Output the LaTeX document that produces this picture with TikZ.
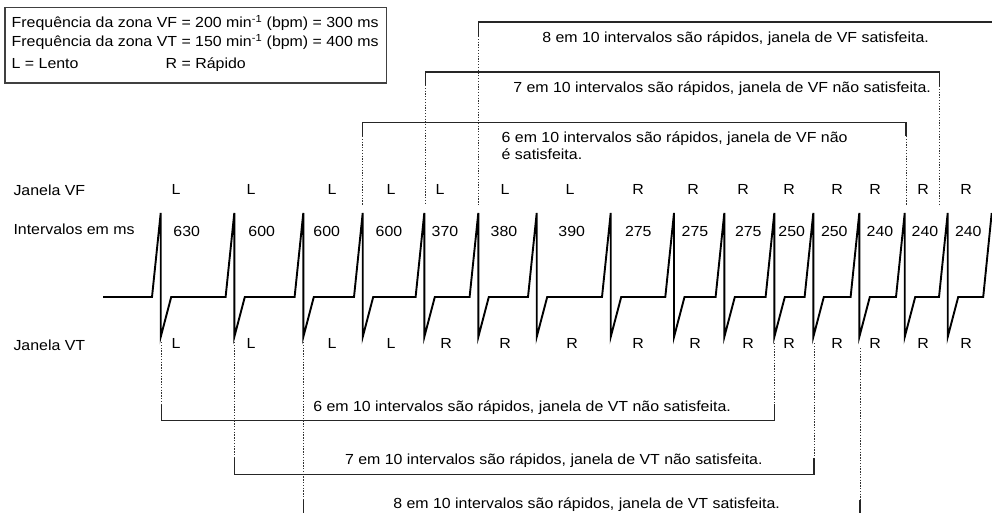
\documentclass[tikz,border=0pt]{standalone}
\usepackage{fontspec}
\setmainfont{Liberation Sans}[FakeStretch=1.09]
\begin{document}
\begin{tikzpicture}[x=1pt,y=-1pt,
  txt/.style={inner sep=0pt,outer sep=0pt,font=\fontsize{14.6}{17}\selectfont},
  lb/.style={txt,anchor=base},
  lbw/.style={txt,anchor=base west},
  wave/.style={line width=1.9pt,black},
  brk/.style={line width=1.2pt,draw=black!85},
  dotl/.style={line width=1pt,draw=black!80,dash pattern=on 1.3pt off 1.5pt},
  legbox/.style={line width=1.3pt,draw=black!75}]
\useasboundingbox (0,0) rectangle (992,513);

% legend
\draw[legbox] (5,7.3) rectangle (386.7,83);
\node[lbw] (leg1) at (11.7,27.7) {Frequência da zona VF = 200 min\textsuperscript{-1} (bpm) = 300 ms};
\node[lbw] (leg2) at (11.7,46.7) {Frequência da zona VT = 150 min\textsuperscript{-1} (bpm) = 400 ms};
\node[lbw] (leg3) at (11.7,68.3) {L = Lento};
\node[lbw] (leg4) at (165.7,68.3) {R = Rápido};

% row labels
\node[lbw] (rowvf) at (13.5,195.5) {Janela VF};
\node[lbw] (rowint) at (13.5,234.5) {Intervalos em ms};
\node[lbw] (rowvt) at (13.5,350) {Janela VT};

% ECG wave
\draw[wave] (103,297)
  \foreach \p in {160.7,234.3,303.3,362.7,424.3,478.3,536.7,610.7,674,724.3,774.3,813.3,859.3,904.7,947.7} {
    -- (\p-8.7,297) -- (\p,213) -- (\p,337) -- (\p+10.5,297) }
  -- (983.2,297) -- (991.7,213);

% VF window labels
\foreach \x/\t [count=\i] in {176/L,251/L,332/L,391/L,440/L,505/L,570/L,638/R,693/R,743/R,789/R,837/R,875/R,923/R,966/R}
  \node[lb] (vf\i) at (\x,194) {\t};
% interval values
\foreach \x/\t [count=\i] in {186.7/630,261.7/600,326.7/600,389/600,445/370,504/380,571.7/390,638.3/275,695/275,748.3/275,791.7/250,834.3/250,880/240,925/240,968.3/240}
  \node[lb] (iv\i) at (\x,236.7) {\t};
% VT window labels
\foreach \x/\t [count=\i] in {176/L,251/L,332/L,391/L,446/R,505/R,572/R,638/R,695/R,748/R,789/R,837/R,875/R,923/R,966/R}
  \node[lb] (vt\i) at (\x,348.8) {\t};

% top brackets (VF)
\coordinate (f8l) at (478.3,22);  \coordinate (f8r) at (1000,22);
\coordinate (f7l) at (425.7,72);  \coordinate (f7r) at (939.3,72);
\coordinate (f6l) at (362.7,122.7); \coordinate (f6r) at (906,122.7);
\draw[brk] (f8r) -- (f8l) -- (478.3,36) coordinate (f8ls);
\draw[dotl] (f8ls) -- (478.3,205);
\draw[brk] (425.7,85) coordinate (f7ls) -- (f7l) -- (f7r) -- (939.3,86) coordinate (f7rs);
\draw[dotl] (f7ls) -- (425.7,205);
\draw[dotl] (f7rs) -- (939.3,205);
\draw[brk] (362.7,136) coordinate (f6ls) -- (f6l) -- (f6r) -- (906,136) coordinate (f6rs);
\draw[dotl] (f6ls) -- (362.7,205);
\draw[dotl] (f6rs) -- (906,205);
\node[lbw] (f8t) at (542.3,42.3) {8 em 10 intervalos são rápidos, janela de VF satisfeita.};
\node[lbw] (f7t) at (513.3,92.7) {7 em 10 intervalos são rápidos, janela de VF não satisfeita.};
\node[lbw] (f6t) at (501.7,142.7) {6 em 10 intervalos são rápidos, janela de VF não};
\node[lbw] (f6t2) at (501.7,159.3) {é satisfeita.};

% bottom brackets (VT)
\coordinate (t6l) at (161.7,420.7); \coordinate (t6r) at (774.3,420.7);
\coordinate (t7l) at (234.3,474.3); \coordinate (t7r) at (814,474.3);
\coordinate (t8l) at (303.3,525);   \coordinate (t8r) at (860,525);
\draw[dotl] (161.7,342) -- (161.7,405) coordinate (t6ls);
\draw[dotl] (774.3,343) -- (774.3,404) coordinate (t6rs);
\draw[brk] (t6ls) -- (t6l) -- (t6r) -- (t6rs);
\draw[dotl] (234.3,342) -- (234.3,458) coordinate (t7ls);
\draw[dotl] (814,343) -- (814,458) coordinate (t7rs);
\draw[brk] (t7ls) -- (t7l) -- (t7r) -- (t7rs);
\draw[dotl] (303.3,342) -- (303.3,500) coordinate (t8ls);
\draw[dotl] (860,348) -- (860,500) coordinate (t8rs);
\draw[brk] (t8ls) -- (t8l) -- (t8r) -- (t8rs);
\node[lbw] (t6t) at (313.3,411) {6 em 10 intervalos são rápidos, janela de VT não satisfeita.};
\node[lbw] (t7t) at (345,464.3) {7 em 10 intervalos são rápidos, janela de VT não satisfeita.};
\node[lbw] (t8t) at (393.3,508.7) {8 em 10 intervalos são rápidos, janela de VT satisfeita.};
\end{tikzpicture}
\end{document}
